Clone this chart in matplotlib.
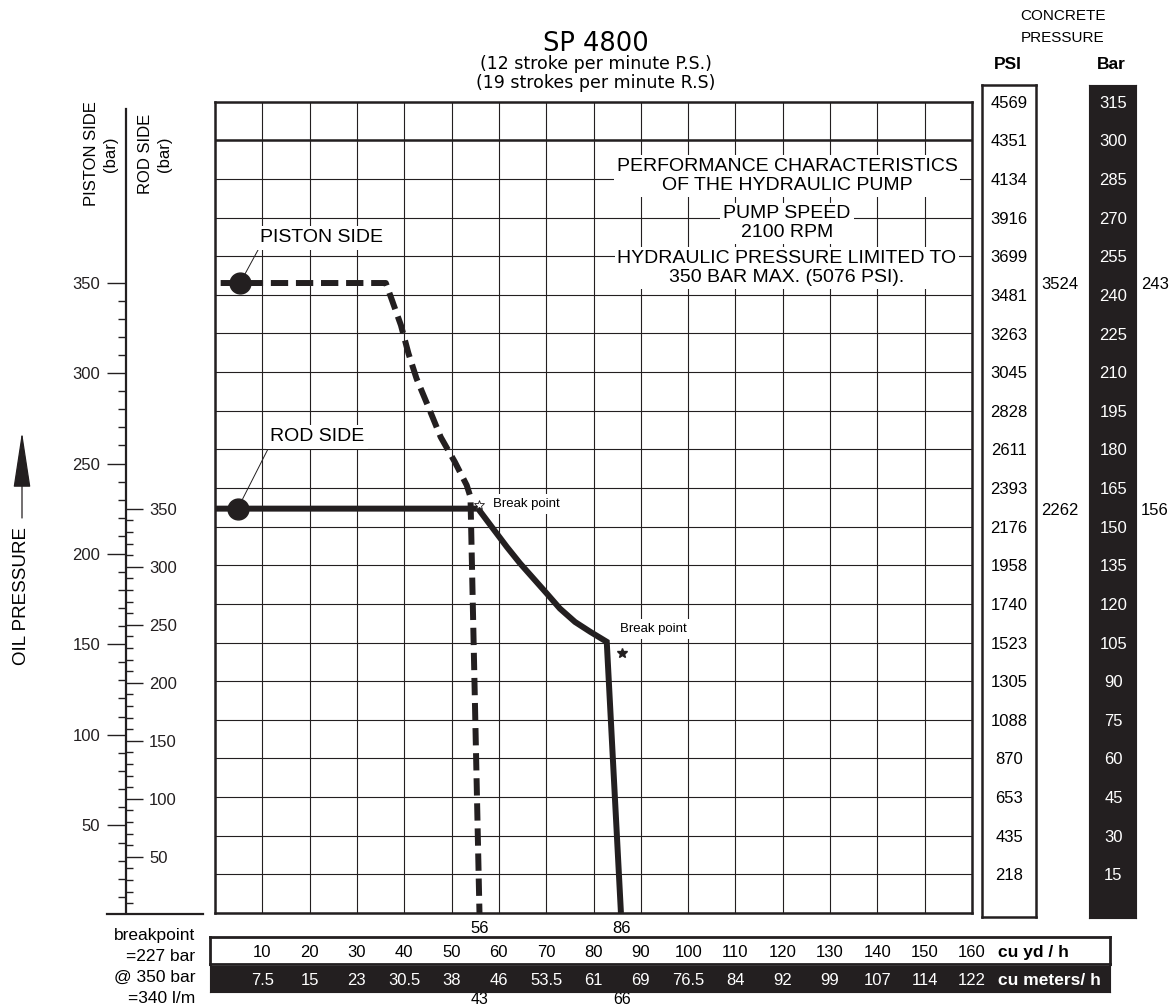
import matplotlib
matplotlib.use("Agg")
import matplotlib.pyplot as plt
from matplotlib import transforms
from matplotlib.lines import Line2D
from matplotlib.patches import FancyArrowPatch
from matplotlib.ticker import FixedLocator

plt.rcParams['font.family'] = ['Liberation Sans', 'DejaVu Sans']

# ==========================================
# DATA
# x = output in cu yd/h, y = concrete pressure (bar)
# ==========================================
piston_x = [1.2, 36.1, 37.3, 39.3, 40.9, 42.6, 45.1, 47.7, 50.7, 53.2, 54.0, 55.9]
piston_y = [244.6, 244.6, 238.5, 228.2, 217.2, 207.5, 196.5, 184.8, 175.1, 166.1, 161.5, 0.0]
rod_x = [0.0, 55.6, 58.5, 61.7, 64.5, 67.3, 70.1, 72.9, 76.1, 79.3, 82.8, 85.8]
rod_y = [157.0, 157.0, 149.9, 142.1, 135.7, 129.9, 124.1, 118.2, 113.0, 109.2, 105.3, 0.0]

start_x = [5.3, 4.8]          # piston side, rod side
start_y = [244.6, 157.0]
break_x = [55.9, 86.0]
break_y = [158.3, 101.0]

limit_yd = [56, 86]
limit_m3 = [43, 66]
level_psi = [3524, 2262]
level_bar = [243, 156]

psi_labels = [4569, 4351, 4134, 3916, 3699, 3481, 3263, 3045, 2828, 2611, 2393,
              2176, 1958, 1740, 1523, 1305, 1088, 870, 653, 435, 218]
bar_labels = [315, 300, 285, 270, 255, 240, 225, 210, 195, 180, 165,
              150, 135, 120, 105, 90, 75, 60, 45, 30, 15]
yd_labels = [10, 20, 30, 40, 50, 60, 70, 80, 90, 100, 110, 120, 130, 140, 150, 160]
m3_labels = ["7.5", "15", "23", "30.5", "38", "46", "53.5", "61", "69", "76.5",
             "84", "92", "99", "107", "114", "122"]
piston_ticks = [50, 100, 150, 200, 250, 300, 350]
rod_ticks = [50, 100, 150, 200, 250, 300, 350]
breakpoint_notes = ["breakpoint", "=227 bar", "@ 350 bar", "=340 l/m"]

INK = "#231f20"
W, H = 1176, 1005


def fx(px):
    return px / W


def fy(py):
    return 1 - py / H


def box(l, t, r, b):
    return [fx(l), fy(b), (r - l) / W, (b - t) / H]


X0, X1, Y0, Y1 = 215, 972, 101.7, 913
XPP = (X1 - X0) / 160
YPP = (Y1 - Y0) / 315

fig = plt.figure(figsize=(W / 100, H / 100), dpi=100)
fig.patch.set_facecolor("white")

# ==========================================
# MAIN GRID
# ==========================================
ax = fig.add_axes(box(X0, Y0, X1, Y1))
ax.set_xlim(0, 160)
ax.set_ylim(0, 315)
ax.set_xticks(range(0, 161, 10))
ax.set_yticks(range(0, 316, 15))
ax.tick_params(length=0, labelbottom=False, labelleft=False)
ax.grid(True, color=INK, lw=0.8)
ax.axhline(300, color=INK, lw=1.8)
for s in ax.spines.values():
    s.set_linewidth(1.8)
    s.set_color(INK)

ax.plot(piston_x, piston_y, color=INK, lw=4.3, dashes=(2.9, 1.3),
        dash_capstyle="butt", zorder=4)
ax.plot(rod_x, rod_y, color=INK, lw=4.3, solid_capstyle="butt",
        solid_joinstyle="miter", zorder=4)
ax.plot(start_x, start_y, "o", color=INK, ms=15, zorder=5)
ax.plot(break_x[:1], break_y[:1], "*", mfc="white", mec=INK, mew=0.6, ms=7, zorder=6)
ax.plot(break_x[1:], break_y[1:], "*", color=INK, ms=7, zorder=6)

white = dict(boxstyle="square,pad=0.18", fc="white", ec="none")
ax.annotate("PISTON SIDE", xy=(start_x[0], start_y[0]), xytext=(9.5, 262.1),
            fontsize=14, ha="left", va="center", bbox=white, zorder=5,
            arrowprops=dict(arrowstyle="-", lw=0.7, color=INK, relpos=(0, 0),
                            shrinkA=0, shrinkB=7.5))
ax.annotate("ROD SIDE", xy=(start_x[1], start_y[1]), xytext=(11.6, 184.9),
            fontsize=14, ha="left", va="center", bbox=white, zorder=5,
            arrowprops=dict(arrowstyle="-", lw=0.7, color=INK, relpos=(0, 0),
                            shrinkA=0, shrinkB=7.5))

small = dict(boxstyle="square,pad=0.3", fc="white", ec="none")
ax.text(58.8, 158.7, "Break point", fontsize=9.5, ha="left", va="center",
        bbox=small, zorder=5)
ax.text(85.6, 110.2, "Break point", fontsize=9.5, ha="left", va="center",
        bbox=small, zorder=5)

notes = [("PERFORMANCE CHARACTERISTICS\nOF THE HYDRAULIC PUMP", 286.2),
         ("PUMP SPEED\n2100 RPM", 267.8),
         ("HYDRAULIC PRESSURE LIMITED TO\n350 BAR MAX. (5076 PSI).", 250.5)]
for txt, yy in notes:
    ax.text(120.9, yy, txt, fontsize=14, ha="center", va="center",
            multialignment="center", linespacing=1.12, zorder=5,
            bbox=dict(boxstyle="square,pad=0.15", fc="white", ec="none"))

# values under the frame
below = transforms.blended_transform_factory(ax.transData, fig.transFigure)
for v in limit_yd:
    ax.text(v, fy(926.7), str(v), transform=below, fontsize=12,
            ha="center", va="center_baseline", clip_on=False)
for v, m in zip(limit_yd, limit_m3):
    ax.text(v, fy(998.3), str(m), transform=below, fontsize=11.5,
            ha="center", va="center_baseline", clip_on=False)

# ==========================================
# LEFT SCALES (piston side / rod side)
# ==========================================
ax_p = fig.add_axes(box(126, Y0, 127, Y1))
ax_p.set_ylim((915.3 - Y1) / 1.807, (915.3 - Y0) / 1.807)
ax_p.patch.set_visible(False)
ax_p.set_xticks([])
for k in ["top", "right", "bottom"]:
    ax_p.spines[k].set_visible(False)
ax_p.spines["left"].set_linewidth(1.6)
ax_p.spines["left"].set_color(INK)
ax_p.spines["left"].set_bounds((915.3 - Y1) / 1.807, (915.3 - 109.3) / 1.807)
ax_p.yaxis.set_major_locator(FixedLocator(piston_ticks))
ax_p.yaxis.set_minor_locator(FixedLocator([v for v in range(10, 350, 10) if v % 50]))
ax_p.tick_params(axis="y", which="major", direction="out", length=13.7, width=1.0,
                 pad=4.8, labelsize=12, color=INK, labelcolor=INK)
ax_p.tick_params(axis="y", which="minor", direction="out", length=5.5, width=1.0, color=INK)

ax_r = fig.add_axes(box(126, Y0, 127, Y1))
ax_r.set_ylim((914.7 - Y1) / 1.16, (914.7 - Y0) / 1.16)
ax_r.patch.set_visible(False)
ax_r.set_xticks([])
for s in ax_r.spines.values():
    s.set_visible(False)
ax_r.spines["right"].set_position(("axes", 0.0))
ax_r.yaxis.tick_right()
ax_r.yaxis.set_major_locator(FixedLocator(rod_ticks))
ax_r.yaxis.set_minor_locator(FixedLocator([v for v in range(10, 350, 10) if v % 50]))
ax_r.tick_params(axis="y", which="major", direction="out", length=12.5, width=1.0,
                 pad=4.2, labelsize=12, color=INK, labelcolor=INK)
ax_r.tick_params(axis="y", which="minor", direction="out", length=5.0, width=1.0, color=INK)

fig.add_artist(Line2D([fx(107), fx(203)], [fy(913.5), fy(913.5)], color=INK, lw=1.6))

fig.text(fx(101), fy(154), "PISTON SIDE\n(bar)", rotation=90, fontsize=12,
         ha="center", va="center", multialignment="center", linespacing=1.35)
fig.text(fx(155), fy(154), "ROD SIDE\n(bar)", rotation=90, fontsize=12,
         ha="center", va="center", multialignment="center", linespacing=1.35)

fig.text(fx(21.7), fy(596), "OIL PRESSURE", rotation=90, fontsize=13.5,
         ha="center", va="center")
fig.add_artist(FancyArrowPatch((fx(22), fy(518)), (fx(22), fy(432)),
                               transform=fig.transFigure,
                               arrowstyle="-|>,head_length=3.6,head_width=0.55",
                               mutation_scale=10, lw=0.9, color=INK,
                               shrinkA=0, shrinkB=0))

for i, note in enumerate(breakpoint_notes):
    fig.text(fx(195), fy(934 + i * 20.9), note, fontsize=12.5,
             ha="right", va="center_baseline")

# ==========================================
# RIGHT COLUMNS (concrete pressure)
# ==========================================
ax_psi = fig.add_axes(box(982, 85, 1036, 917))
ax_psi.set_ylim((Y1 - 917) / YPP, (Y1 - 85) / YPP)
ax_psi.set_xticks([])
ax_psi.set_yticks([])
for s in ax_psi.spines.values():
    s.set_linewidth(1.8)
    s.set_color(INK)
for i, v in enumerate(psi_labels):
    ax_psi.text(0.5, 315 - 15 * i, str(v), transform=ax_psi.get_yaxis_transform(),
                fontsize=12, ha="center", va="center_baseline")

ax_bar = fig.add_axes(box(1089, 85, 1136, 918))
ax_bar.set_ylim((Y1 - 918) / YPP, (Y1 - 85) / YPP)
ax_bar.set_facecolor(INK)
ax_bar.set_xticks([])
ax_bar.set_yticks([])
for s in ax_bar.spines.values():
    s.set_color(INK)
for i, v in enumerate(bar_labels):
    ax_bar.text(0.52, 315 - 15 * i, str(v), transform=ax_bar.get_yaxis_transform(),
                fontsize=12, ha="center", va="center_baseline", color="white")

side = transforms.blended_transform_factory(fig.transFigure, ax.transData)
for yy, p, b in zip(start_y, level_psi, level_bar):
    fig.text(fx(1060), yy, str(p), transform=side, fontsize=12,
             ha="center", va="center_baseline")
    fig.text(fx(1155), yy, str(b), transform=side, fontsize=12,
             ha="center", va="center_baseline")

fig.text(fx(1063), fy(15), "CONCRETE", fontsize=11, ha="center", va="center_baseline")
fig.text(fx(1063), fy(36), "PRESSURE", fontsize=11, ha="center", va="center_baseline")
fig.text(fx(1008), fy(63), "PSI", fontsize=12.5, fontweight="bold",
         ha="center", va="center_baseline")
fig.text(fx(1111), fy(63), "Bar", fontsize=12.5, fontweight="bold",
         ha="center", va="center_baseline")

# ==========================================
# TITLE
# ==========================================
fig.text(fx(596), fy(40.7), "SP 4800", fontsize=18.5, family="DejaVu Sans",
         ha="center", va="center_baseline")
fig.text(fx(596), fy(62.3), "(12 stroke per minute P.S.)", fontsize=12.5,
         family="DejaVu Sans", ha="center", va="center_baseline")
fig.text(fx(596), fy(81), "(19 strokes per minute R.S)", fontsize=12.5,
         family="DejaVu Sans", ha="center", va="center_baseline")

# ==========================================
# OUTPUT TABLE (cu yd/h and cu meters/h)
# ==========================================
ax_yd = fig.add_axes(box(210, 937.3, 1110, 964))
ax_yd.set_xlim((210 - X0) / XPP, (1110 - X0) / XPP)
ax_yd.set_ylim(0, 1)
ax_yd.set_xticks([])
ax_yd.set_yticks([])
for s in ax_yd.spines.values():
    s.set_linewidth(2.0)
    s.set_color(INK)
for v in yd_labels:
    ax_yd.text(v, 0.5, str(v), fontsize=12, ha="center", va="center_baseline")
ax_yd.text((998 - X0) / XPP, 0.5, "cu yd / h", fontsize=12.5, fontweight="bold",
           ha="left", va="center_baseline")

ax_m = fig.add_axes(box(210, 966, 1110, 992))
ax_m.set_xlim((210 - X0) / XPP, (1110 - X0) / XPP)
ax_m.set_ylim(0, 1)
ax_m.set_facecolor(INK)
ax_m.set_xticks([])
ax_m.set_yticks([])
for s in ax_m.spines.values():
    s.set_color(INK)
for v, lab in zip(yd_labels, m3_labels):
    ax_m.text(v, 0.5, lab, fontsize=12, ha="center", va="center_baseline", color="white")
ax_m.text((998 - X0) / XPP, 0.5, "cu meters/ h", fontsize=12.5, fontweight="bold",
          ha="left", va="center_baseline", color="white")

fig.savefig("out.png", dpi=100)
